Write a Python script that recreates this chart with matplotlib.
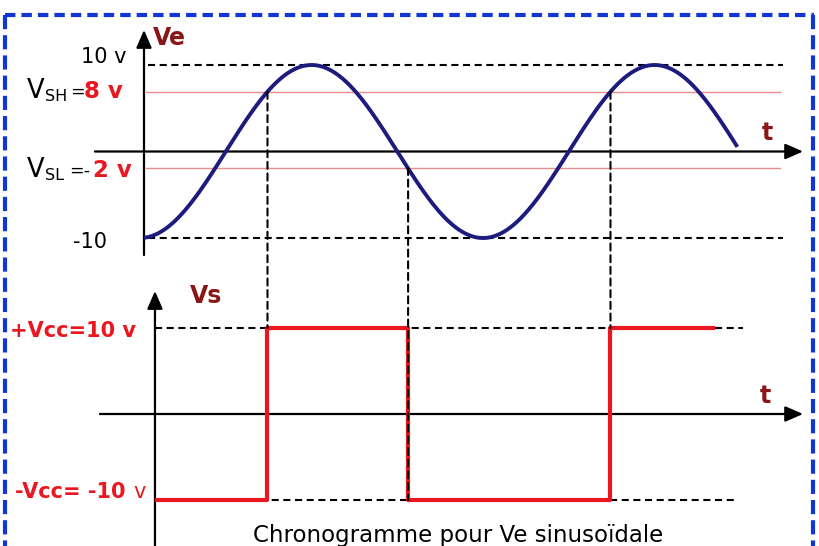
import matplotlib

matplotlib.use("Agg")
import matplotlib.pyplot as plt
import numpy as np
from matplotlib.lines import Line2D
from matplotlib.patches import ConnectionPatch

# Ve : sinusoid (volts vs ms)
ve_amplitude = 10.0
ve_period = 20.0
ve_trough = -0.23
ve_start, ve_stop = 0.0, 34.6

# threshold lines where they are drawn (labels say 8 v and -2 v)
vsh_drawn = 6.9
vsl_drawn = -1.9
ve_limits = [10, -10]

# Vs : comparator output
vs_times = [0.76, 7.2, 15.4, 27.2, 33.2]
vs_levels = [-10, 10, -10, 10, 10]
vcc_levels = [10, -10]

# switching instants and the Ve / Vs levels joined by the dashed guides
switch_times = [7.2, 15.4, 27.2]
switch_ve = [vsh_drawn, vsl_drawn, vsh_drawn]
switch_vs = [10, -10, 10]

NAVY = "#1c1c7e"
RED = "#ea1620"
PINK = "#e98c8c"
MAROON = "#8a1616"
BLUE = "#1235d6"
DASH = (0, (3.4, 2.2))

W, H = 820, 546
fig = plt.figure(figsize=(W / 100, H / 100), dpi=100)


def fxy(x, y):
    return x / W, 1 - y / H


# pixel scale of the drawing: t=0 at x=144, 17.15 px per ms
x0, kx = 144, 17.15
xlim = (-x0 / kx, (W - x0) / kx)

# top panel (Ve): 0 V at y=151.5, 8.65 px per volt, rows 0..270
ax_top = fig.add_axes([0, 1 - 270 / H, 1, 270 / H])
ax_top.set_xlim(*xlim)
ax_top.set_ylim((151.5 - 270) / 8.65, 151.5 / 8.65)

# bottom panel (Vs): 0 V at y=414, 8.6 px per volt, rows 270..546
ax_bot = fig.add_axes([0, 0, 1, 276 / H])
ax_bot.set_xlim(*xlim)
ax_bot.set_ylim((414 - 546) / 8.6, (414 - 270) / 8.6)

for ax in (ax_top, ax_bot):
    ax.set_axis_off()

arrow = dict(
    arrowstyle="-|>,head_length=1.08,head_width=0.47",
    mutation_scale=10,
    lw=1.6,
    color="black",
    shrinkA=0,
    shrinkB=0,
)

# --- Ve panel
ax_top.annotate("", xy=(0, 14.05), xytext=(0, -11.97), arrowprops=arrow)
ax_top.annotate("", xy=(38.43, 0), xytext=(-2.86, 0), arrowprops=arrow)

for lvl in ve_limits:
    ax_top.plot([0.23, 37.26], [lvl, lvl], color="black", lw=1.5, ls=DASH)
for lvl in (vsh_drawn, vsl_drawn):
    ax_top.plot([0.1, 37.1], [lvl, lvl], color=PINK, lw=1.0)

t = np.linspace(ve_start, ve_stop, 500)
ve = -ve_amplitude * np.cos(2 * np.pi * (t - ve_trough) / ve_period)
ax_top.plot(t, ve, color=NAVY, lw=2.8, solid_capstyle="butt", zorder=5)

# --- Vs panel
ax_bot.annotate("", xy=(0.64, 14.3), xytext=(0.64, -16), arrowprops=arrow)
ax_bot.annotate("", xy=(38.43, 0), xytext=(-2.57, 0), arrowprops=arrow)

ax_bot.plot([0.64, 34.93], [vcc_levels[0]] * 2, color="black", lw=1.5, ls=DASH)
ax_bot.plot([0.64, 34.58], [vcc_levels[1]] * 2, color="black", lw=1.5, ls=DASH)
ax_bot.plot(
    vs_times, vs_levels, drawstyle="steps-post", color=RED, lw=3.0, zorder=5
)

# dashed guides from the threshold crossings down to the output edges
for ts, va_, vb_ in zip(switch_times, switch_ve, switch_vs):
    con = ConnectionPatch(
        xyA=(ts, va_),
        coordsA=ax_top.transData,
        xyB=(ts, vb_),
        coordsB=ax_bot.transData,
        color="black",
        lw=1.5,
        ls=DASH,
        zorder=1,
    )
    fig.add_artist(con)


# --- labels
def label(x, y, s, size, color="black", weight="normal", ha="left"):
    fig.text(*fxy(x, y), s, fontsize=size, color=color, weight=weight,
             ha=ha, va="baseline")


label(153, 45, "Ve", 17, MAROON, "bold")
label(127, 63, "10 v", 15, ha="right")
label(27, 98, "V", 18.5)
label(45, 101, "SH", 11.5)
label(70, 97, "=", 12.5)
label(84, 98, "8 v", 16.5, RED, "bold")
label(27, 177, "V", 18.5)
label(45, 180, "SL", 11.5)
label(69, 176, "=-", 12.5)
label(93, 177, "2 v", 16.5, RED, "bold")
label(107, 248, "-10", 15, ha="right")
label(762, 140, "t", 17, MAROON, "bold")

label(190, 303, "Vs", 17, MAROON, "bold")
label(760, 403, "t", 17, MAROON, "bold")
label(10, 337, "+Vcc=10 v", 15, RED, "bold")
label(15, 498, "-Vcc= -10", 15, RED, "bold")
label(133, 498, "v", 15, RED)
label(253, 542, "Chronogramme pour Ve sinusoïdale", 16.5)

# blue dashed frame; its bottom edge lies below the image
frame_kw = dict(transform=fig.transFigure, color=BLUE, lw=3.0,
                solid_capstyle="butt", dash_capstyle="butt")
fig.add_artist(Line2D(*zip(fxy(5, 15), fxy(814, 15)),
                      ls=(0, (2.5, 1.45)), **frame_kw))
for xe in (5.5, 813.5):
    fig.add_artist(Line2D(*zip(fxy(xe, 15), fxy(xe, 560)),
                          ls=(0, (3.4, 1.45)), **frame_kw))

fig.savefig("out.png", dpi=100)
